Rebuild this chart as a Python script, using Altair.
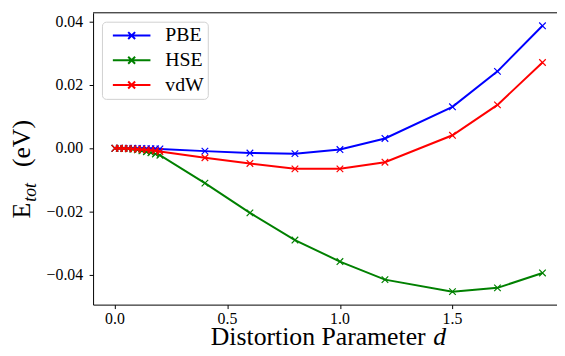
import altair as alt
import pandas as pd

# Data
d_values = [0.0, 0.02, 0.04, 0.06, 0.08, 0.10, 0.12, 0.14, 0.16, 0.18, 0.20,
            0.4, 0.6, 0.8, 1.0, 1.2, 1.5, 1.7, 1.9]
pbe = [0.0, 0.0, 0.0, 0.0, 0.0, -0.00005, -0.00005, -0.0001, -0.0001, -0.00015, -0.0002,
       -0.0009, -0.0015, -0.0017, -0.0004, 0.0031, 0.0131, 0.0243, 0.0387]
hse = [0.0, 0.0, -0.0001, -0.0002, -0.0003, -0.0005, -0.0008, -0.0011, -0.0014, -0.0018, -0.0022,
       -0.0110, -0.0204, -0.0290, -0.0358, -0.0415, -0.0453, -0.0441, -0.0394]
vdw = [0.0, 0.0, -0.00005, -0.0001, -0.0002, -0.0003, -0.0004, -0.0005, -0.0006, -0.0008, -0.0010,
       -0.0030, -0.0048, -0.0065, -0.0065, -0.0044, 0.0041, 0.0137, 0.0271]

series_names = ["PBE", "HSE", "vdW"]
series_colors = ["#0000ff", "#008000", "#ff0000"]
x_ticks = [0.0, 0.5, 1.0, 1.5]
y_ticks = [-0.04, -0.02, 0.0, 0.02, 0.04]

rows = []
for name, vals in zip(series_names, [pbe, hse, vdw]):
    for i, (d, e) in enumerate(zip(d_values, vals)):
        rows.append({"d": d, "E": e, "series": name, "order": i})
df = pd.DataFrame(rows)
xtick_df = pd.DataFrame({"v": x_ticks})
ytick_df = pd.DataFrame({"v": y_ticks})

W, H = 469, 295
FONT = "Liberation Serif"
X_MARK = "M-1,-1L1,1M-1,1L1,-1"
# legend symbol: a 38px line with a small x in the middle (symbolSize 100 -> unit = 5px)
LEG_SYM = "M-3.8,0L3.8,0M-0.7,-0.7L0.7,0.7M-0.7,0.7L0.7,-0.7"

xscale = alt.Scale(domain=[-0.097, 1.9645], nice=False, zero=False)
yscale = alt.Scale(domain=[-0.0494, 0.0428], nice=False, zero=False)
cscale = alt.Scale(domain=series_names, range=series_colors)

xaxis = alt.Axis(values=x_ticks, labels=False, title=None, grid=False)
yaxis = alt.Axis(values=y_ticks, labels=False, title=None, grid=False)

legend = alt.Legend(
    orient="none", legendX=9, legendY=9, title=None,
    symbolType=LEG_SYM, symbolSize=100, symbolStrokeWidth=2,
    symbolFillColor="transparent", symbolOffset=16,
    labelFont=FONT, labelFontSize=20, labelColor="black", labelOffset=24,
    rowPadding=5, columnPadding=0, padding=4, strokeColor="#d0d0d0", fillColor="white",
    cornerRadius=4,
)

layers = []
for name in series_names:
    base = alt.Chart(df).transform_filter(alt.datum.series == name)
    line = base.mark_line(strokeWidth=2).encode(
        x=alt.X("d:Q", scale=xscale, axis=xaxis),
        y=alt.Y("E:Q", scale=yscale, axis=yaxis),
        color=alt.Color("series:N", scale=cscale, legend=legend),
        order="order:Q",
    )
    pts = base.mark_point(shape=X_MARK, filled=False, size=44, strokeWidth=1.2, opacity=1).encode(
        x=alt.X("d:Q", scale=xscale, axis=xaxis),
        y=alt.Y("E:Q", scale=yscale, axis=yaxis),
        color=alt.Color("series:N", scale=cscale, legend=legend),
    )
    layers += [line, pts]

# tick labels drawn as serif text through the same scales
xtick_labels = alt.Chart(xtick_df).mark_text(
    font=FONT, fontSize=16, align="center", baseline="top", color="black"
).encode(
    x=alt.X("v:Q", scale=xscale, axis=xaxis),
    y=alt.value(H + 7),
    text=alt.Text("v:Q", format=".1f"),
)
ytick_labels = alt.Chart(ytick_df).mark_text(
    font=FONT, fontSize=16, align="right", baseline="middle", color="black"
).encode(
    y=alt.Y("v:Q", scale=yscale, axis=yaxis),
    x=alt.value(-10),
    text=alt.Text("v:Q", format=".2f"),
)

one = pd.DataFrame({"a": [0]})
top_spine = alt.Chart(one).mark_rule(color="black", strokeWidth=1).encode(
    x=alt.value(0), x2=alt.value(W + 10), y=alt.value(0)
)

ytitle_E = alt.Chart(pd.DataFrame({"t": ["E"]})).mark_text(
    font=FONT, fontSize=26, angle=270, align="left", baseline="alphabetic", color="black"
).encode(x=alt.value(-64), y=alt.value(208), text="t:N")
ytitle_sub = alt.Chart(pd.DataFrame({"t": ["tot"]})).mark_text(
    font=FONT, fontSize=18, fontStyle="italic", angle=270, align="left", baseline="alphabetic", color="black"
).encode(x=alt.value(-58), y=alt.value(191), text="t:N")
ytitle_unit = alt.Chart(pd.DataFrame({"t": ["(eV)"]})).mark_text(
    font=FONT, fontSize=26, angle=270, align="left", baseline="alphabetic", color="black"
).encode(x=alt.value(-64), y=alt.value(156), text="t:N")

xtitle_main = alt.Chart(pd.DataFrame({"t": ["Distortion Parameter"]})).mark_text(
    font=FONT, fontSize=26, align="left", baseline="alphabetic", color="black"
).encode(x=alt.value(119), y=alt.value(336), text="t:N")
xtitle_d = alt.Chart(pd.DataFrame({"t": ["d"]})).mark_text(
    font=FONT, fontSize=26, fontStyle="italic", align="left", baseline="alphabetic", color="black"
).encode(x=alt.value(344), y=alt.value(336), text="t:N")

chart = alt.layer(
    *layers, xtick_labels, ytick_labels, top_spine,
    ytitle_E, ytitle_sub, ytitle_unit, xtitle_main, xtitle_d
).properties(
    width=W, height=H,
    autosize=alt.AutoSizeParams(type="none"),
    padding={"left": 86, "top": 3, "right": 0, "bottom": 42},
    background="white",
).configure_view(stroke=None).configure_axis(
    domainColor="black", domainWidth=1, tickColor="black", tickWidth=1, tickSize=4,
)

chart.save("out.html", embed_options={"renderer": "svg", "actions": False})
